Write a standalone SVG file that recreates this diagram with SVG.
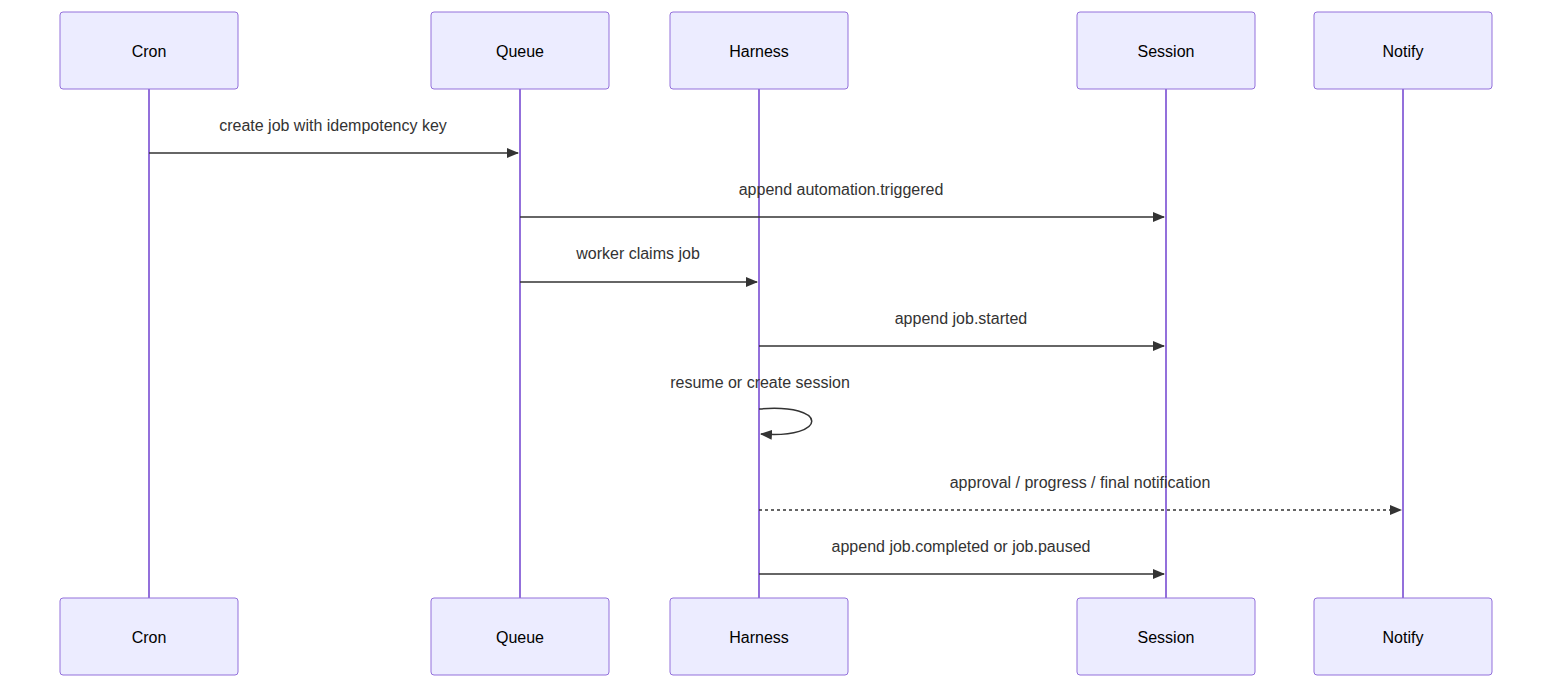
<svg xmlns="http://www.w3.org/2000/svg" width="1568" height="696" viewBox="0 0 1568 696">
<style>
.actor{fill:#ECECFF;stroke:#9370DB;stroke-width:1}
.life{stroke:#9370DB;stroke-width:2}
.at{font-family:"Liberation Sans",Arial,sans-serif;font-size:16px;fill:#000;text-anchor:middle;dominant-baseline:central}
.mt{font-family:"Liberation Sans",Arial,sans-serif;font-size:16px;fill:#333;text-anchor:middle}
.msg{stroke:#333;stroke-width:1.5;fill:none}
.dash{stroke-dasharray:3,3}
</style>
<defs>
<marker id="ah" viewBox="0 0 12 10" refX="11" refY="5" markerWidth="12" markerHeight="10" markerUnits="userSpaceOnUse" orient="auto">
<path d="M0,0 L12,5 L0,10 z" fill="#333"/>
</marker>
</defs>
<g id="lifelines">
<line class="life" x1="149" y1="89" x2="149" y2="598"/>
<line class="life" x1="520" y1="89" x2="520" y2="598"/>
<line class="life" x1="759" y1="89" x2="759" y2="598"/>
<line class="life" x1="1166" y1="89" x2="1166" y2="598"/>
<line class="life" x1="1403" y1="89" x2="1403" y2="598"/>
</g>
<g id="cron"><rect class="actor" x="60" y="12" width="178" height="77" rx="3"/><text class="at" x="149" y="51">Cron</text>
<rect class="actor" x="60" y="598" width="178" height="77" rx="3"/><text class="at" x="149" y="637">Cron</text></g>
<g id="queue"><rect class="actor" x="431" y="12" width="178" height="77" rx="3"/><text class="at" x="520" y="51">Queue</text>
<rect class="actor" x="431" y="598" width="178" height="77" rx="3"/><text class="at" x="520" y="637">Queue</text></g>
<g id="harness"><rect class="actor" x="670" y="12" width="178" height="77" rx="3"/><text class="at" x="759" y="51">Harness</text>
<rect class="actor" x="670" y="598" width="178" height="77" rx="3"/><text class="at" x="759" y="637">Harness</text></g>
<g id="session"><rect class="actor" x="1077" y="12" width="178" height="77" rx="3"/><text class="at" x="1166" y="51">Session</text>
<rect class="actor" x="1077" y="598" width="178" height="77" rx="3"/><text class="at" x="1166" y="637">Session</text></g>
<g id="notify"><rect class="actor" x="1314" y="12" width="178" height="77" rx="3"/><text class="at" x="1403" y="51">Notify</text>
<rect class="actor" x="1314" y="598" width="178" height="77" rx="3"/><text class="at" x="1403" y="637">Notify</text></g>
<g id="connectors">
<line class="msg" x1="149" y1="153" x2="518" y2="153" marker-end="url(#ah)"/>
<text class="mt" x="333" y="131">create job with idempotency key</text>
<line class="msg" x1="520" y1="217" x2="1164" y2="217" marker-end="url(#ah)"/>
<text class="mt" x="841" y="195">append automation.triggered</text>
<line class="msg" x1="520" y1="282" x2="757" y2="282" marker-end="url(#ah)"/>
<text class="mt" x="638" y="259">worker claims job</text>
<line class="msg" x1="759" y1="346" x2="1164" y2="346" marker-end="url(#ah)"/>
<text class="mt" x="961" y="324">append job.started</text>
<path class="msg" d="M759,409 C829,403 829,439 761,434" marker-end="url(#ah)"/>
<text class="mt" x="760" y="388">resume or create session</text>
<line class="msg dash" x1="759" y1="510" x2="1401" y2="510" marker-end="url(#ah)"/>
<text class="mt" x="1080" y="488">approval / progress / final notification</text>
<line class="msg" x1="759" y1="574" x2="1164" y2="574" marker-end="url(#ah)"/>
<text class="mt" x="961" y="552">append job.completed or job.paused</text>
</g>
</svg>
